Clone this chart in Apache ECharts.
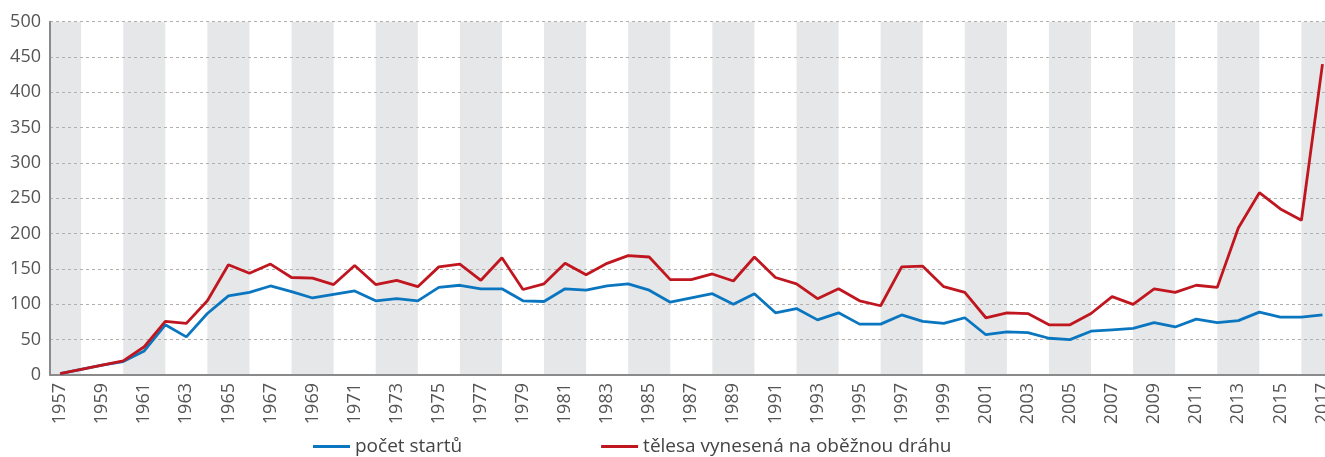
<!DOCTYPE html>
<html>
<head>
<meta charset="utf-8">
<script src="https://cdn.jsdelivr.net/npm/echarts@6/dist/echarts.min.js"></script>
<style>
html,body{margin:0;padding:0;background:#fff;overflow:hidden;width:1325px;height:457px;}
#c{width:1325px;height:457px;position:absolute;left:0;top:0;}
</style>
</head>
<body>
<div id="c"></div>
<script>
const years = [];
for (let y = 1957; y <= 2017; y++) years.push(y);

const launches = [
  2, 8, 14, 19, 34, 71, 54, 87, 112, 117,
  126, 118, 109, 114, 119, 105, 108, 105, 124, 127,
  122, 122, 105, 104, 122, 120, 126, 129, 120, 103,
  109, 115, 100, 115, 88, 94, 78, 88, 72, 72,
  85, 76, 73, 81, 57, 61, 60, 52, 50, 62,
  64, 66, 74, 68, 79, 74, 77, 89, 82, 82,
  85
];
const objects = [
  2, 8, 14, 20, 40, 76, 73, 105, 156, 144,
  157, 138, 137, 128, 155, 128, 134, 125, 153, 157,
  134, 166, 121, 129, 158, 142, 158, 169, 167, 135,
  135, 143, 133, 167, 138, 129, 108, 122, 105, 98,
  153, 154, 125, 117, 81, 88, 87, 71, 71, 87,
  111, 100, 122, 117, 127, 124, 208, 258, 235, 219,
  440
];
const yTicks = [0, 50, 100, 150, 200, 250, 300, 350, 400, 450, 500];
const xLabelYears = years.filter(y => (y - 1957) % 2 === 0);
const seriesNames = ['počet startů', 'tělesa vynesená na oběžnou dráhu'];

const X_MIN = 1956.52, X_MAX = 2017.12;
const bands = [];
for (let y = 1956; y <= 2017; y += 4) {
  bands.push([{ xAxis: Math.max(y, X_MIN) }, { xAxis: Math.min(y + 2, X_MAX) }]);
}

const FONT = 'Open Sans';
const el = document.getElementById('c');
const chart = echarts.init(el, null, { renderer: 'canvas', width: 1325, height: 457 });
chart.setOption({
  animation: false,
  backgroundColor: '#ffffff',
  textStyle: { fontFamily: FONT },
  grid: { left: 50, right: 0, top: 21.7, bottom: 82, containLabel: false, outerBoundsMode: 'none' },
  legend: {
    left: 308, top: 432,
    itemWidth: 37, itemHeight: 3, itemGap: 139,
    icon: 'rect',
    textStyle: { fontFamily: FONT, fontSize: 19, color: '#444' },
    data: seriesNames
  },
  xAxis: {
    type: 'value',
    min: X_MIN, max: X_MAX,
    z: 2,
    axisLine: { show: true, onZero: false, lineStyle: { color: '#8a8a8a', width: 2 } },
    axisTick: { show: false },
    splitLine: { show: false },
    axisLabel: {
      customValues: xLabelYears,
      rotate: 90, margin: 8,
      fontFamily: FONT, fontSize: 18, color: '#555',
      formatter: v => String(Math.round(v))
    }
  },
  yAxis: {
    type: 'value',
    min: 0, max: 500, interval: 50,
    z: 2,
    axisLine: { show: true, lineStyle: { color: '#8a8a8a', width: 2 } },
    axisTick: { show: false },
    splitLine: { show: true, lineStyle: { color: '#b0b0b0', type: [3, 3], width: 1 } },
    axisLabel: { margin: 9, fontFamily: FONT, fontSize: 18, color: '#555',
      customValues: yTicks }
  },
  series: [
    {
      type: 'line', name: '__bands', data: [], z: 1, silent: true,
      markArea: { silent: true, itemStyle: { color: '#e6e7e8' }, data: bands }
    },
    {
      type: 'line', name: seriesNames[0], z: 3,
      data: years.map((y, i) => [y, launches[i]]),
      showSymbol: false, symbol: 'none',
      lineStyle: { color: '#0a76c0', width: 2.8 },
      itemStyle: { color: '#0a76c0' }
    },
    {
      type: 'line', name: seriesNames[1], z: 4,
      data: years.map((y, i) => [y, objects[i]]),
      showSymbol: false, symbol: 'none',
      lineStyle: { color: '#c0161f', width: 2.8 },
      itemStyle: { color: '#c0161f' }
    }
  ]
});
</script>
</body>
</html>
